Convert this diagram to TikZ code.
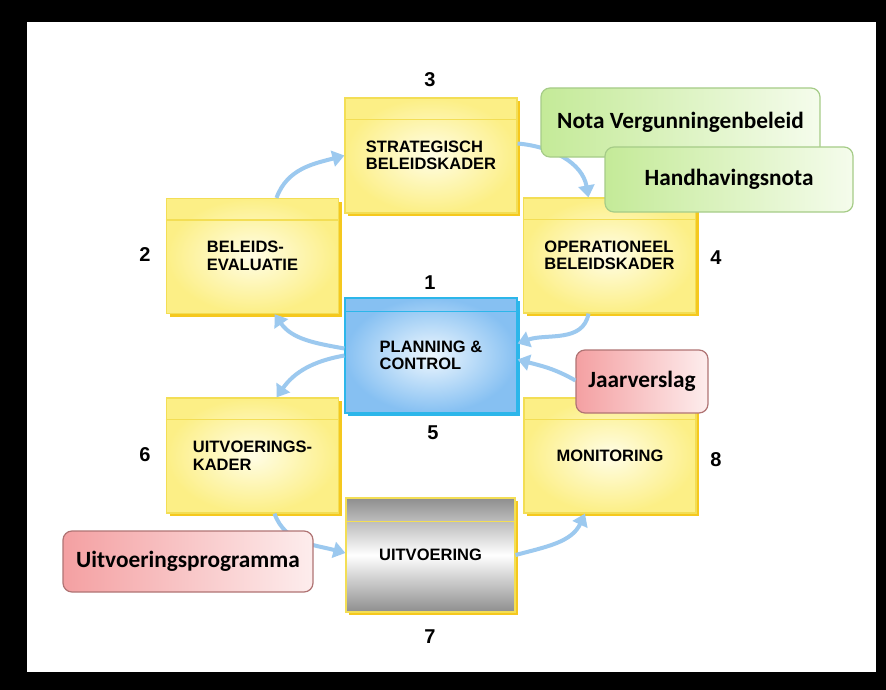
\documentclass[tikz,border=0pt]{standalone}
\usepackage{fontspec}
\setmainfont{Liberation Sans}
\newfontfamily\notafont{Carlito}
\usetikzlibrary{arrows.meta,shadows}
\definecolor{geel}{HTML}{FCEF86}
\definecolor{geellicht}{HTML}{FFFDE6}
\definecolor{geelrand}{HTML}{F3DE55}
\definecolor{geelschaduw}{HTML}{F5C81E}
\definecolor{blauw}{HTML}{86C0F2}
\definecolor{blauwlicht}{HTML}{EEF7FE}
\definecolor{blauwrand}{HTML}{2CB6EA}
\definecolor{grijs}{HTML}{8E8E8E}
\definecolor{pijlblauw}{HTML}{9CC9EF}
\definecolor{groen}{HTML}{C4EA98}
\definecolor{groenlicht}{HTML}{F5FCEC}
\definecolor{groenrand}{HTML}{A6CC88}
\definecolor{rood}{HTML}{F4A0A2}
\definecolor{roodlicht}{HTML}{FDEDED}
\definecolor{roodrand}{HTML}{B07474}
\begin{document}
\begin{tikzpicture}[x=1pt,y=-1pt,
    vak/.style={draw=geelrand,line width=1.2pt,minimum width=172pt,minimum height=115pt,
      align=left,inner color=geellicht,outer color=geel,
      font=\fontsize{16.5}{17.5}\selectfont\bfseries,
      drop shadow={shadow xshift=3pt,shadow yshift=-3pt,fill=geelschaduw,opacity=1}},
    kop/.style={draw=geelrand,line width=1.2pt},
    cijfer/.style={font=\fontsize{20}{20}\selectfont\bfseries},
    pijl/.style={draw=pijlblauw,line width=4pt,-{Triangle[width=16pt,length=12pt]}},
    nota/.style={rounded corners=9pt,line width=1.2pt,minimum height=65pt,
      font=\notafont\fontsize{23.3}{23.3}\selectfont\bfseries},
    groennota/.style={nota,draw=groenrand,left color=groen,right color=groenlicht},
    roodnota/.style={nota,draw=roodrand,left color=rood,right color=roodlicht}]
  \fill[black] (0,0) rectangle (886,690);
  \fill[white] (27,22) rectangle (876,672);
  % de kaders
  \node[vak] (b3) at (431,155.5) {STRATEGISCH\\BELEIDSKADER};
  \node[vak] (b2) at (252.5,256) {BELEIDS-\\EVALUATIE};
  \node[vak] (b4) at (609.5,255.5) {OPERATIONEEL\\BELEIDSKADER};
  \node[vak,draw=blauwrand,inner color=blauwlicht,outer color=blauw,
    drop shadow={shadow xshift=3pt,shadow yshift=-3pt,fill=blauwrand,opacity=1}]
    (b1) at (431,355.5) {PLANNING \&\\CONTROL};
  \node[vak] (b6) at (252.5,455.5) {UITVOERINGS-\\KADER};
  \node[vak,minimum width=169pt,minimum height=114pt,top color=grijs,bottom color=grijs,middle color=white]
    (b7) at (430.5,555) {UITVOERING};
  \node[vak] (b8) at (610,455.5) {MONITORING};
  \draw[kop] ([yshift=-22pt]b3.north west) -- ([yshift=-22pt]b3.north east);
  \draw[kop] ([yshift=-22pt]b2.north west) -- ([yshift=-22pt]b2.north east);
  \draw[kop] ([yshift=-22pt]b4.north west) -- ([yshift=-22pt]b4.north east);
  \draw[kop,draw=blauwrand] ([yshift=-14pt]b1.north west) -- ([yshift=-14pt]b1.north east);
  \draw[kop] ([yshift=-22pt]b6.north west) -- ([yshift=-22pt]b6.north east);
  \draw[kop] ([yshift=-24pt]b7.north west) -- ([yshift=-24pt]b7.north east);
  \draw[kop] ([yshift=-22pt]b8.north west) -- ([yshift=-22pt]b8.north east);
  % nummers
  \node[cijfer] (n1) at (430,283) {1};
  \node[cijfer] (n2) at (145,255) {2};
  \node[cijfer] (n3) at (430,80) {3};
  \node[cijfer] (n4) at (716,258) {4};
  \node[cijfer] (n5) at (433,433) {5};
  \node[cijfer] (n6) at (145,455) {6};
  \node[cijfer] (n7) at (430,637) {7};
  \node[cijfer] (n8) at (716,460) {8};
  % de cyclus
  \draw[pijl] ([xshift=24pt]b2.north) to[out=70,in=195] (b3.west);
  \draw[pijl] ([yshift=12pt]b3.east) to[out=-5,in=100] ([xshift=-21pt]b4.north);
  \draw[pijl] ([xshift=-21pt]b4.south) to[out=-100,in=20] ([yshift=12pt]b1.east);
  \draw[pijl] ([yshift=7pt]b1.west) to[out=170,in=-55] ([xshift=22pt]b2.south);
  \draw[pijl] ([yshift=0pt]b1.west) to[out=190,in=55] ([xshift=24pt]b6.north);
  \draw[pijl] ([xshift=22pt]b6.south) to[out=-70,in=165] ([yshift=2pt]b7.west);
  \draw[pijl] (b7.east) to[out=15,in=-115] ([xshift=-25pt]b8.south);
  % documenten
  \node[groennota,minimum width=279pt,minimum height=69pt] (nvb) at (680.5,122.5) {Nota Vergunningenbeleid};
  \node[groennota,minimum width=248pt] (hhn) at (729,179.5) {Handhavingsnota};
  \node[roodnota,minimum width=132pt,minimum height=63pt] (jv) at (642,381.5) {Jaarverslag};
  \node[roodnota,minimum width=250pt,minimum height=61pt] (uvp) at (188,561.5) {Uitvoeringsprogramma};
  \draw[pijl] ([yshift=1pt]jv.west) to[out=150,in=-15] ([yshift=-4pt]b1.east);
\end{tikzpicture}
\end{document}
